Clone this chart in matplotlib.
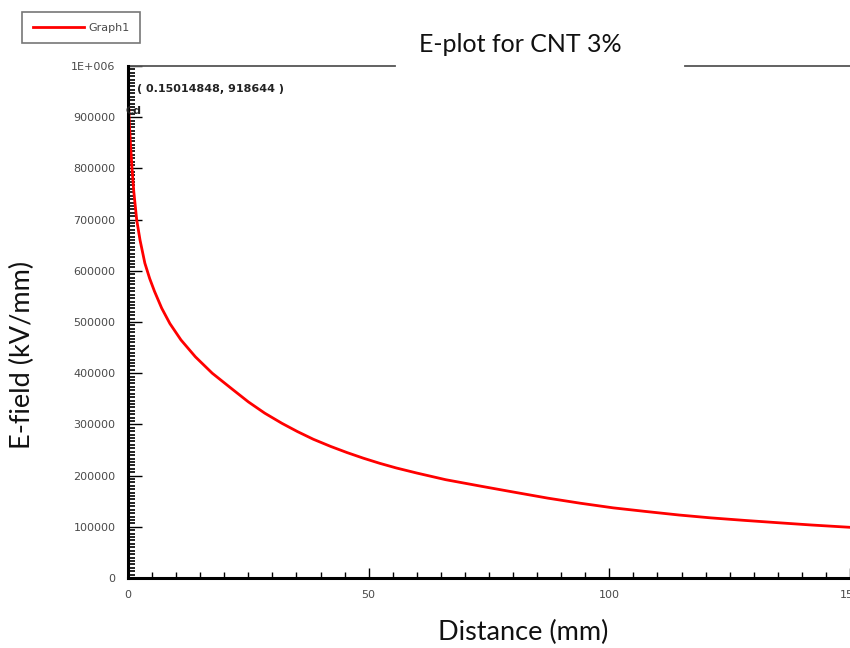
import numpy as np
import matplotlib.pyplot as plt
from matplotlib.ticker import MultipleLocator, FixedLocator

# --- data ---
distance = [0.15, 0.3, 0.5, 0.8, 1.2, 1.8, 2.5, 3.5, 4.5, 5.5, 7.0, 8.7,
            11.0, 14.0, 17.5, 21.5, 25.0, 28.4, 32.0, 35.2, 38.5, 42.1, 45.5,
            48.9, 52.3, 55.7, 60.0, 66.0, 73.5, 80.0, 87.2, 94.0, 100.8,
            107.5, 114.5, 121.0, 128.1, 135.0, 142.0, 150.0]
efield = [918644, 885000, 850000, 805000, 755000, 700000, 660000, 615000,
          585000, 560000, 527000, 497000, 465000, 432000, 400000, 370000,
          344000, 322000, 302000, 286000, 271000, 257000, 245000, 234000,
          224000, 215000, 205000, 192000, 179000, 168000, 156000, 146000,
          137000, 130000, 123000, 117500, 112500, 108000, 103500, 99000]

y_ticks = [0, 100000, 200000, 300000, 400000, 500000, 600000, 700000,
           800000, 900000, 1000000]
y_labels = ['0', '100000', '200000', '300000', '400000', '500000', '600000',
            '700000', '800000', '900000', '1E+006']
x_ticks = [0, 50, 100, 150]

fig = plt.figure(figsize=(8.5, 6.48), dpi=100)
ax = fig.add_axes([128/850, 1 - 578/648, 722/850, 512/648])

line, = ax.plot(distance, efield, color='#ff0000', lw=2)
ax.set_xlim(0, 150)
ax.set_ylim(0, 1000000)

ax.yaxis.set_major_locator(FixedLocator(y_ticks))
ax.set_yticklabels(y_labels)
ax.yaxis.set_minor_locator(MultipleLocator(100000/15))
ax.xaxis.set_major_locator(FixedLocator(x_ticks))
ax.xaxis.set_minor_locator(MultipleLocator(5))

tick_col = '#4a4a4a'
ax.tick_params(axis='both', which='both', direction='in', colors='black',
               labelcolor=tick_col, labelsize=8)
ax.tick_params(axis='y', which='major', length=10, width=1, pad=9)
ax.tick_params(axis='y', which='minor', length=5, width=1.2)
ax.tick_params(axis='x', which='major', length=7, width=1, pad=9)
ax.tick_params(axis='x', which='minor', length=4, width=1)

for s in ['left', 'bottom']:
    ax.spines[s].set_linewidth(2.2)
for s in ['top', 'right']:
    ax.spines[s].set_visible(False)

# top frame broken by the title
ax.plot([0, 0.37], [1, 1], color='#555555', lw=1.3, transform=ax.transAxes, clip_on=False)
ax.plot([0.771, 1], [1, 1], color='#555555', lw=1.3, transform=ax.transAxes, clip_on=False)

fig.text(520/850, 1 - 45/648, 'E-plot for CNT 3%', family='Lato', fontsize=18,
         ha='center', va='center', color='#111111')
fig.text(523/850, 1 - 632/648, 'Distance (mm)', family='Lato', fontsize=19.5,
         ha='center', va='center', color='#111111')
fig.text(22/850, 1 - 355/648, 'E-field (kV/mm)', family='Lato', fontsize=19.5,
         rotation=90, ha='center', va='center', color='#111111')

# cursor readout
ax.text(0.013, 0.955, '( 0.15014848, 918644 )', transform=ax.transAxes, fontsize=8,
        fontweight='bold', color='#222222', ha='left', va='center')
ax.text(-0.004, 0.913, 'Cd', transform=ax.transAxes, fontsize=8, fontweight='bold',
        color='#222222', ha='left', va='center')

leg = fig.legend([line], ['Graph1'], loc='upper left', bbox_to_anchor=(22/850, 1 - 12/648),
                 frameon=True, fancybox=False, fontsize=8, handlelength=4.6,
                 borderpad=0.95, borderaxespad=0, handletextpad=0.4, labelcolor=tick_col)
leg.get_frame().set_edgecolor('#555555')
leg.get_frame().set_linewidth(1.2)

fig.savefig('out.png', dpi=100)
